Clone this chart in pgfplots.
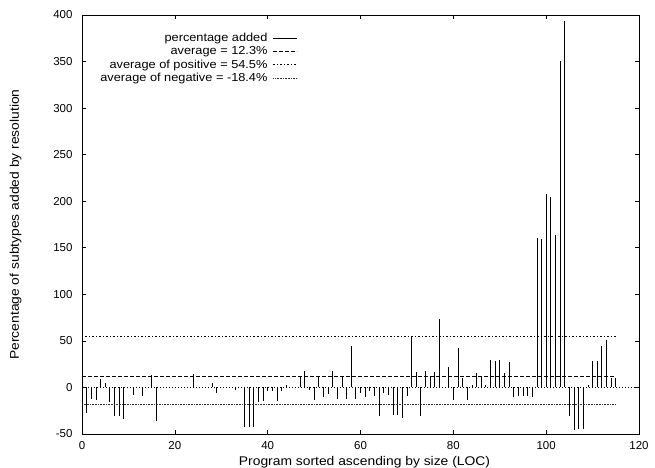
\documentclass[border=0pt]{standalone}
\usepackage{fontspec}
\setmainfont{Liberation Sans}
\newfontfamily\lblfont{Liberation Sans}[FakeStretch=1.1]
\usepackage{pgfplots}
\pgfplotsset{compat=1.18}
\usetikzlibrary{calc}
\begin{document}
\begin{tikzpicture}[font=\fontsize{11.5bp}{13bp}\selectfont]
\begin{axis}[
  scale only axis,
  width=557bp, height=419bp,
  xmin=0, xmax=120, ymin=-50, ymax=400,
  xtick={0,20,...,120}, ytick={-50,0,50,...,400},
  minor tick num=0,
  tick align=inside,
  major tick length=4bp,
  tick style={black, line width=0.6bp},
  axis line style={black, line width=0.8bp},
  /pgf/number format/assume math mode=true,
  yticklabel style={xshift=-6bp},
  xticklabel style={yshift=-4bp},
  xlabel={Program sorted ascending by size (LOC)},
  ylabel={Percentage of subtypes added by resolution},
  label style={font=\fontsize{12.6bp}{14bp}\lblfont},
  xlabel style={yshift=0bp, xshift=4bp},
  ylabel style={yshift=25bp},
  legend style={at={(rel axis cs:0.393,0.966)}, anchor=north east, draw=none, fill=none,
    legend cell align=right, row sep=-0.2bp,
    font=\fontsize{11.6bp}{13bp}\lblfont,
    nodes={inner sep=1.5bp, text height=8.5bp, text depth=2bp}},
  legend plot pos=right,
  legend image code/.code={\path (0bp,0bp); \draw[#1] (4bp,0bp) -- (28bp,0bp);},
  clip=false,
]
\coordinate (bl) at (rel axis cs:0,0);
\coordinate (tr) at (rel axis cs:1,1);
\addplot[ycomb, black, line width=0.75bp, forget plot] coordinates {
(1,-27) (2,-12) (3,-13) (4,9) (5,4.5) (6,-16) (7,-31) (8,-31) (9,-34)
(11,-8) (13,-9) (15,13) (16,-36) (24,14) (28,5) (29,-6.5) (33,-3)
(35,-42) (36,-42) (37,-42) (38,-16) (39,-14.5) (40,-4) (41,-3.5) (42,-15)
(43,-3.5) (44,2.5) (47,10.7) (48,18) (49,-2.5) (50,-13) (51,10.7) (52,-10)
(53,-7) (54,18) (55,-12) (56,11.4) (57,-12) (58,44.6) (59,-12) (60,-5.5)
(61,-10.7) (62,-3.6) (63,-9) (64,-31) (65,-5.5) (66,-8) (67,-30) (68,-30)
(69,-33) (70,-9) (71,55) (72,17) (73,-31) (74,17.5) (75,12.5) (76,17)
(77,73) (79,22) (80,-13) (81,42) (82,10) (83,-14) (84,2.5) (85,15)
(86,11.4) (87,3) (88,30) (89,28) (90,30) (91,15) (92,27) (93,-10)
(94,-9) (95,-9) (96,-9) (97,-10) (98,161) (99,159) (100,208) (101,205)
(102,164) (103,351) (104,394) (105,-31) (106,-46) (107,-45) (108,-45)
(109,2.5) (110,28) (111,28) (112,45) (113,51) (114,10) (115,10)
};
\addplot[black, line width=0.5bp, dash pattern=on 1bp off 2bp, forget plot] coordinates {(0,0) (120,0)};
\addlegendimage{black, line width=0.75bp}
\addlegendentry{percentage added}
\addplot[black, line width=0.6bp, dash pattern=on 4bp off 2bp] coordinates {(0,12.3) (115,12.3)};
\addlegendentry{average = 12.3\%}
\addplot[black, line width=0.6bp, dash pattern=on 1.5bp off 2bp] coordinates {(0,54.5) (115,54.5)};
\addlegendentry{average of positive = 54.5\%}
\addplot[black!80, line width=0.5bp, dash pattern=on 0.8bp off 0.8bp] coordinates {(0,-18.4) (115,-18.4)};
\addlegendentry{average of negative = -18.4\%}
\end{axis}
\pgfresetboundingbox
\path[use as bounding box] ($(bl)+(-82bp,-34bp)$) rectangle ($(tr)+(16bp,15bp)$);
\end{tikzpicture}
\end{document}
